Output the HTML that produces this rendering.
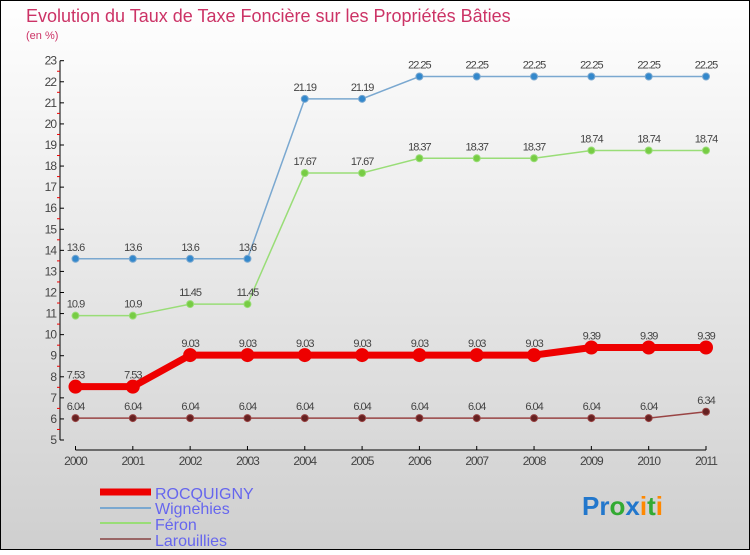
<!DOCTYPE html>
<html><head><meta charset="utf-8"><style>
body{margin:0}
svg text{font-family:"Liberation Sans",sans-serif}
</style></head><body>
<svg width="750" height="550" xmlns="http://www.w3.org/2000/svg">
<defs><linearGradient id="bg" x1="0" y1="0" x2="0" y2="1"><stop offset="0" stop-color="#ffffff"/><stop offset="1" stop-color="#cfcfcf"/></linearGradient></defs>
<rect x="0.5" y="0.5" width="749" height="549" fill="url(#bg)" stroke="#000"/>
<text x="26" y="22" font-size="18" fill="#cc3366">Evolution du Taux de Taxe Foncière sur les Propriétés Bâties</text>
<text x="26" y="39" font-size="11" fill="#cc3366">(en %)</text>
<g id="axes"></g><g id="series"></g>
<g>
<line x1="100" y1="492" x2="151" y2="492" stroke="#ee0000" stroke-width="7"/>
<text x="155" y="499" font-size="16" fill="#6666ee">ROCQUIGNY</text>
<line x1="100" y1="508" x2="151" y2="508" stroke="#7aa8d0" stroke-width="2"/>
<text x="155" y="514" font-size="16" fill="#6666ee">Wignehies</text>
<line x1="100" y1="523" x2="151" y2="523" stroke="#99dd77" stroke-width="2"/>
<text x="155" y="530" font-size="16" fill="#6666ee">Féron</text>
<line x1="100" y1="539" x2="151" y2="539" stroke="#996666" stroke-width="2"/>
<text x="155" y="546" font-size="16" fill="#6666ee">Larouillies</text>
</g>
<g font-size="26" font-weight="bold">
<text x="582" y="515"><tspan fill="#2277cc">Pr</tspan><tspan fill="#33aa33">o</tspan><tspan fill="#2277cc">x</tspan><tspan fill="#ff8800">i</tspan><tspan fill="#33aa33">t</tspan><tspan fill="#ff8800">i</tspan></text>
</g>
</svg>
<script>
const years=[2000,2001,2002,2003,2004,2005,2006,2007,2008,2009,2010,2011];
const yTicks=[5,6,7,8,9,10,11,12,13,14,15,16,17,18,19,20,21,22,23];
const rocquigny=[7.53,7.53,9.03,9.03,9.03,9.03,9.03,9.03,9.03,9.39,9.39,9.39];
const wignehies=[13.6,13.6,13.6,13.6,21.19,21.19,22.25,22.25,22.25,22.25,22.25,22.25];
const feron=[10.9,10.9,11.45,11.45,17.67,17.67,18.37,18.37,18.37,18.74,18.74,18.74];
const larouillies=[6.04,6.04,6.04,6.04,6.04,6.04,6.04,6.04,6.04,6.04,6.04,6.34];
const NS="http://www.w3.org/2000/svg";
const X=i=>75.5+i*(706-75.5)/(years.length-1);
const Y=v=>440-(v-5)*(440-60.7)/18;
function mk(tag,attrs,parent,txt){const e=document.createElementNS(NS,tag);for(const k in attrs)e.setAttribute(k,attrs[k]);if(txt!==undefined)e.textContent=txt;parent.appendChild(e);return e;}
const ax=document.getElementById('axes');
let e=mk('line',{x1:60,y1:Y(23),x2:60,y2:Y(5),stroke:'#000'},ax);


yTicks.forEach((t,i)=>{
 mk('line',{x1:60,y1:Y(t),x2:64,y2:Y(t),stroke:'#000'},ax);
 if(i<yTicks.length-1)mk('line',{x1:57,y1:Y(t+0.5),x2:60,y2:Y(t+0.5),stroke:'#e00'},ax);
 const l=mk('text',{x:56,y:Y(t)+4,'font-size':12,fill:'#444','text-anchor':'end','letter-spacing':'-1'},ax,t);
 
 
});
e=mk('line',{x1:X(0),y1:450,x2:X(11),y2:450,stroke:'#000'},ax);


years.forEach((y,i)=>{
 mk('line',{x1:X(i),y1:446,x2:X(i),y2:450,stroke:'#000'},ax);
 const l=mk('text',{x:X(i),y:465,'font-size':12,fill:'#444','text-anchor':'middle','letter-spacing':'-1'},ax,y);
 
 
});
const sg=document.getElementById('series');
function draw(name,vals,color,dot,w,r){
 const g=mk('g',{},sg);
 
 
 mk('polyline',{points:vals.map((v,i)=>X(i)+','+Y(v)).join(' '),fill:'none',stroke:color,'stroke-width':w},g);
 vals.forEach((v,i)=>{
  const c=mk('circle',{cx:X(i),cy:Y(v),r:r,fill:dot,stroke:color,'stroke-width':1},g);
  
  
  const t=mk('text',{x:X(i),y:Y(v)-8,'font-size':11,fill:'#444','text-anchor':'middle','letter-spacing':'-1'},g,String(v));
  
  
 });
}
draw('larouillies',larouillies,'#994444','#662222',1.5,3.5);
draw('feron',feron,'#99dd77','#77cc44',1.5,3.5);
draw('wignehies',wignehies,'#7aa8d0','#3388cc',1.5,3.5);
draw('rocquigny',rocquigny,'#ee0000','#ee0000',7,6.5);
</script>
</body></html>
